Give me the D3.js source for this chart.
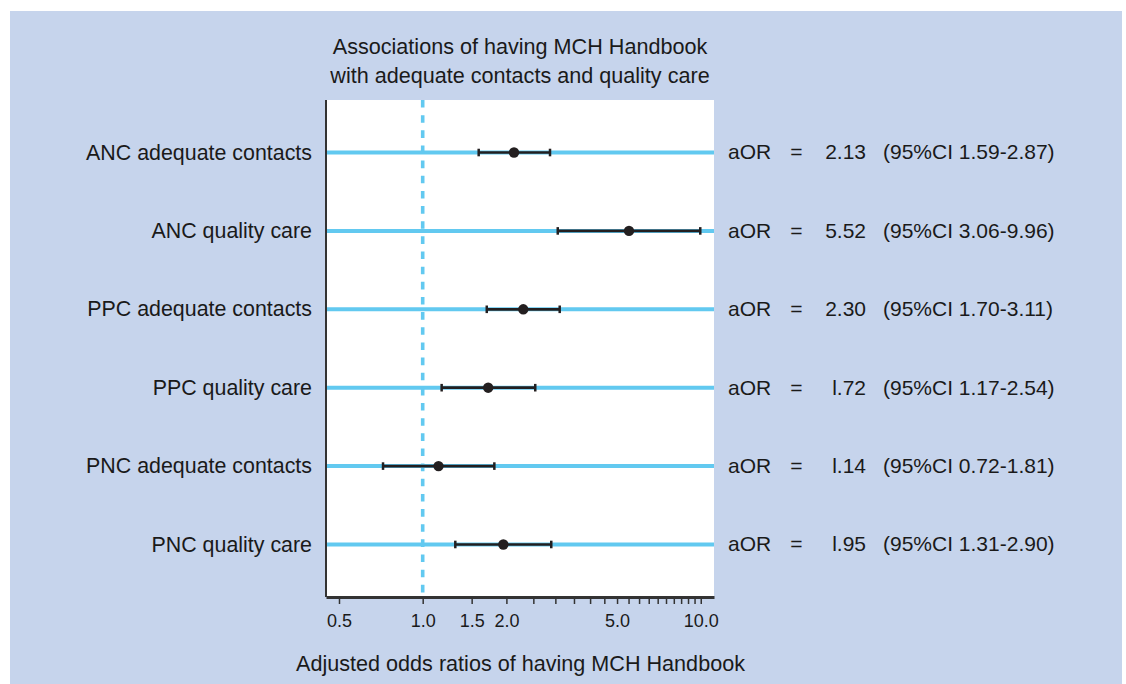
<!DOCTYPE html>
<html>
<head>
<meta charset="utf-8">
<script src="https://cdn.jsdelivr.net/npm/d3@7"></script>
<style>
  html, body { margin: 0; padding: 0; background: #ffffff; }
  svg { display: block; font-family: "Liberation Sans", Arial, Helvetica, sans-serif; }
</style>
</head>
<body>
<svg id="chart" width="1126" height="684"></svg>
<script>
// ---- data ----
const categories = ["ANC adequate contacts", "ANC quality care", "PPC adequate contacts",
                    "PPC quality care", "PNC adequate contacts", "PNC quality care"];
const aOR   = [2.13, 5.52, 2.30, 1.72, 1.14, 1.95];
const lower = [1.59, 3.06, 1.70, 1.17, 0.72, 1.31];
const upper = [2.87, 9.96, 3.11, 2.54, 1.81, 2.90];
const aORLabels = ["2.13", "5.52", "2.30", "l.72", "l.14", "l.95"];
const ciLabels = ["(95%CI 1.59-2.87)", "(95%CI 3.06-9.96)", "(95%CI 1.70-3.11)",
                  "(95%CI 1.17-2.54)", "(95%CI 0.72-1.81)", "(95%CI 1.31-2.90)"];
const tickValues = [0.5, 1, 1.5, 2, 2.5, 3, 3.5, 4, 4.5, 5, 5.5, 6, 6.5, 7, 7.5, 8, 8.5, 9, 9.5, 10];
const tickLabels = {0.5: "0.5", 1: "1.0", 1.5: "1.5", 2: "2.0", 5: "5.0", 10: "10.0"};
const titleLines = ["Associations of having MCH Handbook", "with adequate contacts and quality care"];
const xTitle = "Adjusted odds ratios of having MCH Handbook";
const refValue = 1;

// ---- layout ----
const svg = d3.select("#chart");
const L = 326, R = 714, T = 100, B = 597;
const blue = "#62c9f0", dark = "#231f20", textCol = "#1a1a1a";

svg.append("rect").attr("x", 10).attr("y", 11).attr("width", 1112).attr("height", 673).attr("fill", "#c6d4ec");
svg.append("rect").attr("x", L).attr("y", T).attr("width", R - L).attr("height", B - T).attr("fill", "#ffffff");

const x = d3.scaleLog().domain([0.449, 11.16]).range([L, R]);
const y = d3.scalePoint().domain(categories).range([T, B]).padding(0.67);

const rows = categories.map((c, i) => ({c, or: aOR[i], lo: lower[i], hi: upper[i], ol: aORLabels[i], cl: ciLabels[i]}));

// horizontal row lines
svg.append("g").selectAll("line").data(rows).join("line")
  .attr("x1", L).attr("x2", R)
  .attr("y1", d => y(d.c)).attr("y2", d => y(d.c))
  .attr("stroke", blue).attr("stroke-width", 4);

// reference dashed line
svg.append("line")
  .attr("x1", x(refValue)).attr("x2", x(refValue)).attr("y1", T).attr("y2", B)
  .attr("stroke", blue).attr("stroke-width", 3.6).attr("stroke-dasharray", "7.6,7.55");

// error bars
const eb = svg.append("g");
eb.selectAll("line.ci").data(rows).join("line").attr("class", "ci")
  .attr("x1", d => x(d.lo)).attr("x2", d => x(d.hi))
  .attr("y1", d => y(d.c)).attr("y2", d => y(d.c))
  .attr("stroke", dark).attr("stroke-width", 2.7);
["lo", "hi"].forEach(k => {
  eb.selectAll("line.cap" + k).data(rows).join("line").attr("class", "cap" + k)
    .attr("x1", d => x(d[k])).attr("x2", d => x(d[k]))
    .attr("y1", d => y(d.c) - 3.8).attr("y2", d => y(d.c) + 3.8)
    .attr("stroke", dark).attr("stroke-width", 2.5);
});
eb.selectAll("circle").data(rows).join("circle")
  .attr("cx", d => x(d.or)).attr("cy", d => y(d.c)).attr("r", 5.2)
  .attr("fill", dark);

// left axis line
svg.append("line").attr("x1", L).attr("x2", L).attr("y1", T).attr("y2", B)
  .attr("stroke", "#333").attr("stroke-width", 2);

// bottom axis
const xAxis = d3.axisBottom(x).tickValues(tickValues)
  .tickFormat(v => tickLabels[v] || "").tickSize(7).tickSizeOuter(0).tickPadding(10);
const ax = svg.append("g").attr("transform", `translate(0,${B})`).call(xAxis);
ax.select(".domain").attr("stroke", "#333").attr("stroke-width", 3);
ax.selectAll(".tick line").attr("stroke", "#333").attr("stroke-width", 1.5);
ax.selectAll(".tick text").attr("fill", textCol).style("font-size", "18px")
  .style("font-family", "'Liberation Sans', Arial, sans-serif");

// category labels
svg.append("g").selectAll("text").data(rows).join("text")
  .attr("x", 312).attr("y", d => y(d.c)).attr("dy", "0.33em")
  .attr("text-anchor", "end").attr("fill", textCol).style("font-size", "21.4px")
  .text(d => d.c);

// right annotations
const ann = svg.append("g").style("font-size", "21px").attr("fill", textCol);
ann.selectAll("text.a").data(rows).join("text").attr("class", "a")
  .attr("x", 728).attr("y", d => y(d.c)).attr("dy", "0.33em").text("aOR");
ann.selectAll("text.eq").data(rows).join("text").attr("class", "eq")
  .attr("x", 796.5).attr("y", d => y(d.c)).attr("dy", "0.33em").attr("text-anchor", "middle").text("=");
ann.selectAll("text.v").data(rows).join("text").attr("class", "v")
  .attr("x", 866).attr("y", d => y(d.c)).attr("dy", "0.33em").attr("text-anchor", "end").text(d => d.ol);
ann.selectAll("text.ci").data(rows).join("text").attr("class", "ci")
  .attr("x", 883).attr("y", d => y(d.c)).attr("dy", "0.33em").text(d => d.cl);

// title
svg.append("g").selectAll("text").data(titleLines).join("text")
  .attr("x", (L + R) / 2).attr("y", (d, i) => 54.3 + i * 28.4)
  .attr("text-anchor", "middle").attr("fill", textCol).style("font-size", "21.6px")
  .text(d => d);

// x title
svg.append("text").attr("x", (L + R) / 2 + 0.5).attr("y", 670.5)
  .attr("text-anchor", "middle").attr("fill", textCol).style("font-size", "21.6px")
  .text(xTitle);
</script>
</body>
</html>
